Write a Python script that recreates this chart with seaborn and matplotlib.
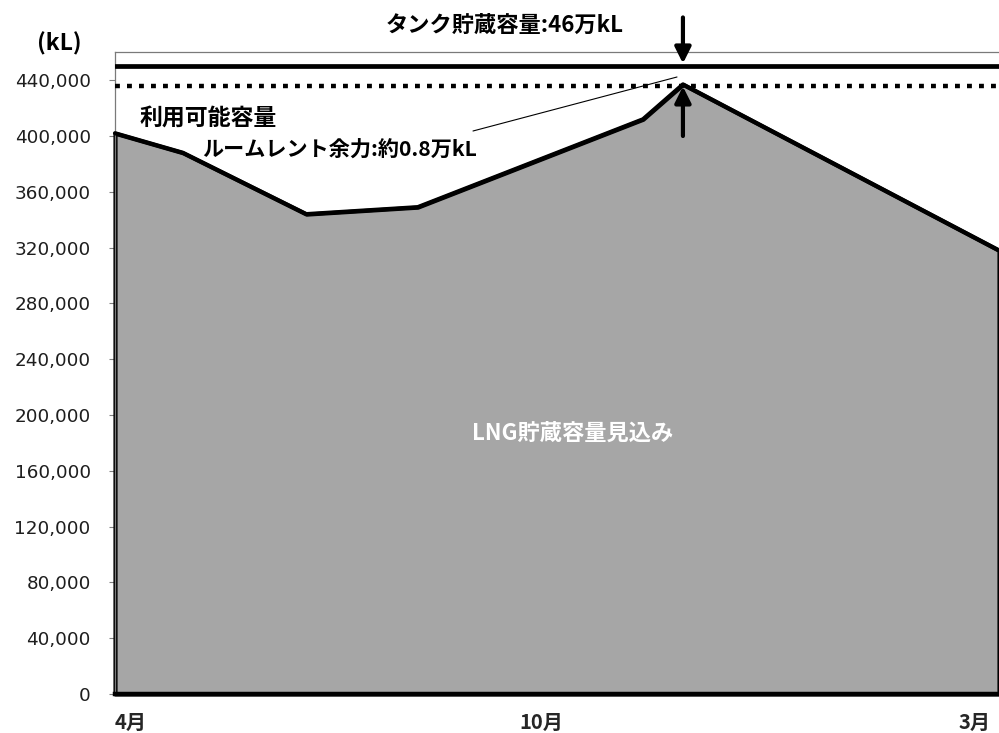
import numpy as np
import pandas as pd
import matplotlib
matplotlib.use("Agg")
import matplotlib.pyplot as plt
import seaborn as sns

# ---- data ----
days = [0, 28, 79, 125, 218, 234.5, 365]          # days from April 1
storage = [402000, 388000, 344000, 349000, 412000, 437000, 318000]  # kL
tank_capacity = 450000
usable_capacity = 435500
yticks = list(range(0, 440001, 40000))
xtick_pos = [6.6, 176, 354.7]
xtick_labels = ["4月", "10月", "3月"]

W, H = 999, 733
sns.set_theme(style="white")
plt.rcParams["font.family"] = ["Noto Sans CJK JP", "DejaVu Sans"]

fig = plt.figure(figsize=(W / 100, H / 100), dpi=100)

def fx(px):
    return px / W

def fy(py):
    return 1 - py / H

ax_left, ax_top, ax_bottom = 115, 52.3, 694
ax = fig.add_axes([fx(ax_left), fy(ax_bottom), 1 - fx(ax_left), fy(ax_top) - fy(ax_bottom)])

df = pd.DataFrame({"day": days, "kl": storage})

# filled area with black outline
ax.fill_between(df["day"], 0, df["kl"], facecolor="#a6a6a6", edgecolor="black",
                linewidth=3.0, clip_on=False, zorder=2, joinstyle="round")
sns.lineplot(data=df, x="day", y="kl", ax=ax, color="black", linewidth=3.0,
             zorder=3, clip_on=False)

# capacity lines
ax.axhline(tank_capacity, color="black", linewidth=3.4, zorder=4)
ax.axhline(usable_capacity, color="black", linewidth=3.2, linestyle=(0, (1.1, 1.6)),
           dash_capstyle="butt", zorder=4)

ax.set_xlim(0, 365)
ax.set_ylim(0, 460000)
ax.set_yticks(yticks)
ax.set_yticklabels([f"{v:,}" for v in yticks], family=["DejaVu Sans"], fontsize=13.2,
                   color="#1e1e1e")
ax.tick_params(axis="y", which="major", left=True, direction="out", length=4.5,
               width=0.8, color="#808080", pad=13)
ax.set_xticks(xtick_pos)
ax.set_xticklabels(xtick_labels, fontsize=14.5, fontweight="bold",
                   family=["Noto Sans CJK JP", "DejaVu Sans"])
ax.tick_params(axis="x", length=0, pad=13)
ax.set_xlabel("")
ax.set_ylabel("")

for s in ["top", "left"]:
    ax.spines[s].set_color("#7a7a7a")
    ax.spines[s].set_linewidth(0.9)
ax.spines["right"].set_visible(False)
ax.spines["bottom"].set_color("black")
ax.spines["bottom"].set_linewidth(3.2)

# arrows at peak
peak_i = int(np.argmax(storage))
px_day = days[peak_i]
a1 = ax.annotate("", xy=(px_day, tank_capacity + 2000), xytext=(px_day, 485000),
                 xycoords="data", textcoords="data", annotation_clip=False,
                 arrowprops=dict(arrowstyle="-|>", lw=3, color="black", mutation_scale=24,
                                 shrinkA=0, shrinkB=0), zorder=6)
a1.arrow_patch.set_clip_on(False)
a2 = ax.annotate("", xy=(px_day, storage[peak_i] - 1500), xytext=(px_day, 400000),
                 xycoords="data", textcoords="data",
                 arrowprops=dict(arrowstyle="-|>", lw=3, color="black", mutation_scale=24,
                                 shrinkA=0, shrinkB=0), zorder=6)

# leader line (figure pixel coords)
fig.add_artist(plt.Line2D([fx(473), fx(677)], [fy(131), fy(77)], color="black",
                          linewidth=0.8, transform=fig.transFigure))

bold = dict(fontweight="bold", family=["Noto Sans CJK JP", "DejaVu Sans"], color="black")
fig.text(fx(59), fy(44), "(kL)", ha="center", va="center", fontsize=16.5, **bold)
fig.text(fx(505), fy(25), "タンク貯蔵容量:46万kL", ha="center", va="center", fontsize=16, **bold)
fig.text(fx(208), fy(118), "利用可能容量", ha="center", va="center", fontsize=16.5, **bold)
fig.text(fx(340), fy(150), "ルームレント余力:約0.8万kL", ha="center", va="center", fontsize=15.2, **bold)
fig.text(fx(573), fy(433), "LNG貯蔵容量見込み", ha="center", va="center", fontsize=16,
         fontweight="bold", family=["Noto Sans CJK JP", "DejaVu Sans"], color="white")

fig.savefig("out.png", dpi=100)
